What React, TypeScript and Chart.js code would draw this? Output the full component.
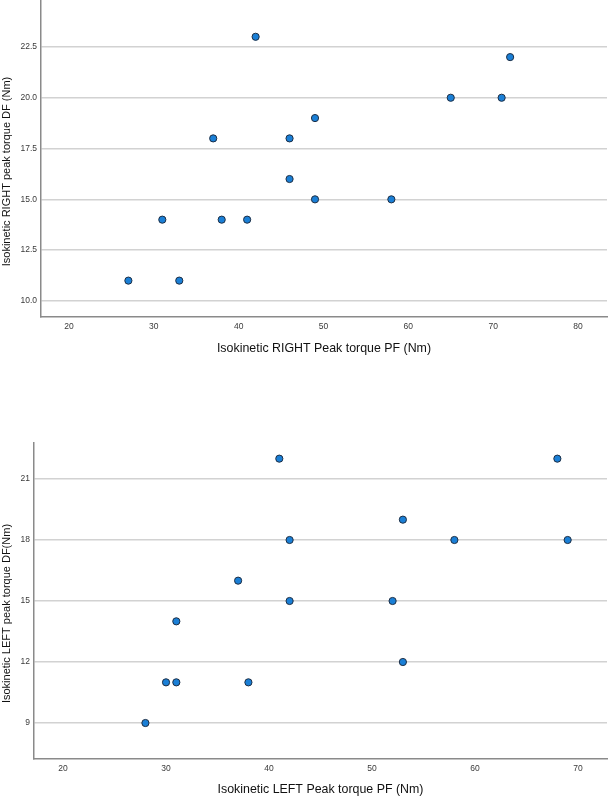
import React, { useEffect, useRef } from "react";
import { Chart, registerables } from "chart.js";

Chart.register(...registerables);

// Top chart: RIGHT side
const rightPF = [27, 31, 33, 37, 38, 41, 42, 46, 46, 49, 49, 58, 65, 71, 72];
const rightDF = [11, 14, 11, 18, 14, 14, 23, 18, 16, 19, 15, 15, 20, 20, 22];
const rightXTicks = [20, 30, 40, 50, 60, 70, 80];
const rightYTicks = [10, 12.5, 15, 17.5, 20, 22.5];
const rightXTitle = "Isokinetic RIGHT Peak torque PF (Nm)";
const rightYTitle = "Isokinetic RIGHT peak torque DF (Nm)";

// Bottom chart: LEFT side
const leftPF = [28, 30, 31, 31, 37, 38, 41, 42, 42, 52, 53, 53, 58, 68, 69];
const leftDF = [9, 11, 11, 14, 16, 11, 22, 18, 15, 15, 19, 12, 18, 22, 18];
const leftXTicks = [20, 30, 40, 50, 60, 70];
const leftYTicks = [9, 12, 15, 18, 21];
const leftXTitle = "Isokinetic LEFT Peak torque PF (Nm)";
const leftYTitle = "Isokinetic LEFT peak torque DF(Nm)";

const FONT = "'Liberation Sans', Arial, sans-serif";

const yTitlePlugin = {
  id: "yTitleCustom",
  afterDraw(chart: any, _args: any, opts: any) {
    const { ctx, chartArea } = chart;
    ctx.save();
    ctx.translate(opts.x, (chartArea.top + chartArea.bottom) / 2 + opts.dy);
    ctx.rotate(-Math.PI / 2);
    ctx.font = opts.font;
    ctx.fillStyle = "#111111";
    ctx.textAlign = "center";
    ctx.textBaseline = "middle";
    ctx.fillText(opts.text, 0, 0);
    ctx.restore();
  },
};

interface Spec {
  xs: number[];
  ys: number[];
  xTicks: number[];
  yTicks: number[];
  xMin: number;
  xMax: number;
  yMin: number;
  yMax: number;
  xTitle: string;
  yTitle: string;
  yWidth: number;
  xHeight: number;
  padTop: number;
  titlePadBottom: number;
  yDecimals: number;
  yTitleDy: number;
}

function buildConfig(s: Spec): any {
  const points = s.xs.map((x, i) => ({ x, y: s.ys[i] }));
  return {
    type: "scatter",
    data: {
      datasets: [
        {
          data: points,
          backgroundColor: "#1a7fd6",
          borderColor: "#1d2e44",
          borderWidth: 1,
          pointRadius: 3.6,
          pointHoverRadius: 3.6,
          clip: false,
        },
      ],
    },
    plugins: [yTitlePlugin],
    options: {
      responsive: false,
      animation: false,
      devicePixelRatio: 1,
      layout: { autoPadding: false, padding: { top: s.padTop, right: 1, bottom: 0, left: 0 } },
      plugins: {
        legend: { display: false },
        tooltip: { enabled: false },
        yTitleCustom: {
          text: s.yTitle,
          x: 7,
          dy: s.yTitleDy,
          font: `11px ${FONT}`,
        },
      },
      scales: {
        x: {
          type: "linear",
          min: s.xMin,
          max: s.xMax,
          afterBuildTicks: (scale: any) => {
            scale.ticks = s.xTicks.map((v) => ({ value: v }));
          },
          afterFit: (scale: any) => {
            scale.height = s.xHeight;
            scale.paddingLeft = 0;
            scale.paddingRight = 0;
          },
          grid: { display: false, drawTicks: false },
          border: { display: true, color: "#8a8a8a", width: 1.5 },
          ticks: {
            padding: 5,
            color: "#3a3a3a",
            font: { family: FONT, size: 8.5 },
            maxRotation: 0,
            callback: (v: any) => String(v),
          },
          title: {
            display: true,
            text: s.xTitle,
            color: "#111111",
            font: { family: FONT, size: 12.4 },
            padding: { top: 0, bottom: s.titlePadBottom },
          },
        },
        y: {
          type: "linear",
          min: s.yMin,
          max: s.yMax,
          afterBuildTicks: (scale: any) => {
            scale.ticks = s.yTicks.map((v) => ({ value: v }));
          },
          afterFit: (scale: any) => {
            scale.width = s.yWidth;
            scale.paddingTop = 0;
            scale.paddingBottom = 0;
          },
          grid: { display: true, drawTicks: false, color: "#d2d2d2", lineWidth: 1.5 },
          border: { display: true, color: "#8a8a8a", width: 1.5 },
          ticks: {
            padding: 4,
            color: "#3a3a3a",
            font: { family: FONT, size: 8.5 },
            callback: (v: any) => Number(v).toFixed(s.yDecimals),
          },
        },
      },
    },
  };
}

function ChartCanvas({ spec, width, height }: { spec: Spec; width: number; height: number }) {
  const ref = useRef<HTMLCanvasElement | null>(null);
  useEffect(() => {
    if (!ref.current) return;
    const chart = new Chart(ref.current, buildConfig(spec));
    return () => chart.destroy();
  }, [spec]);
  return <canvas ref={ref} width={width} height={height} style={{ display: "block", width, height }} />;
}

const topSpec: Spec = {
  xs: rightPF,
  ys: rightDF,
  xTicks: rightXTicks,
  yTicks: rightYTicks,
  xMin: 16.7,
  xMax: 83.42,
  yMin: 9.21,
  yMax: 24.81,
  xTitle: rightXTitle,
  yTitle: rightYTitle,
  yWidth: 41,
  xHeight: 43,
  padTop: 0,
  titlePadBottom: 4,
  yDecimals: 1,
  yTitleDy: 13,
};

const bottomSpec: Spec = {
  xs: leftPF,
  ys: leftDF,
  xTicks: leftXTicks,
  yTicks: leftYTicks,
  xMin: 17.18,
  xMax: 72.82,
  yMin: 7.23,
  yMax: 22.77,
  xTitle: leftXTitle,
  yTitle: leftYTitle,
  yWidth: 34,
  xHeight: 38,
  padTop: 43,
  titlePadBottom: 0,
  yDecimals: 0,
  yTitleDy: 12.5,
};

export default function App() {
  return (
    <div style={{ position: "absolute", left: 0, top: 0, width: 608, height: 797, background: "#ffffff" }}>
      <div style={{ position: "absolute", left: 0, top: 0 }}>
        <ChartCanvas spec={topSpec} width={608} height={360} />
      </div>
      <div style={{ position: "absolute", left: 0, top: 400 }}>
        <ChartCanvas spec={bottomSpec} width={608} height={397} />
      </div>
    </div>
  );
}
